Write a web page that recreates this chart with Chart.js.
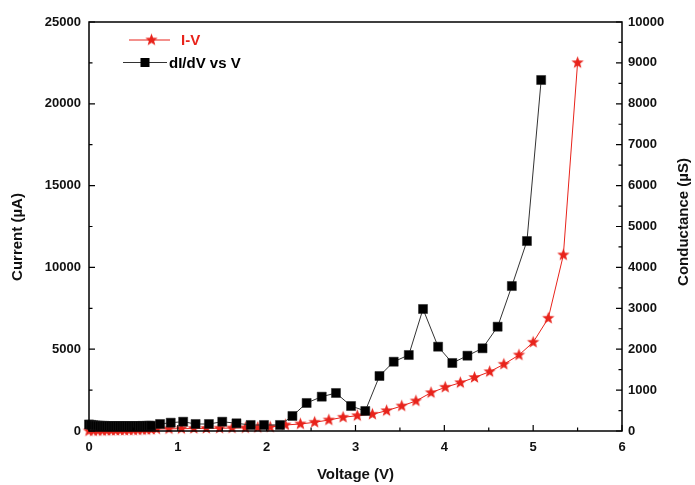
<!DOCTYPE html>
<html>
<head>
<meta charset="utf-8">
<script src="https://cdn.jsdelivr.net/npm/chart.js@4/dist/chart.umd.min.js"></script>
<style>
  body { margin: 0; background: #fff; }
  #chart { display: block; }
</style>
</head>
<body>
<canvas id="chart" width="695" height="485"></canvas>
<script>
// I-V curve (left axis, µA)
const ivVoltage = [0, 0.05, 0.1, 0.15, 0.2, 0.25, 0.3, 0.35, 0.4, 0.45, 0.5, 0.55, 0.6, 0.65, 0.7,
  0.76, 0.90, 1.04, 1.18, 1.32, 1.47, 1.61, 1.76, 1.90, 2.04, 2.21, 2.38, 2.54, 2.70, 2.86, 3.02,
  3.19, 3.35, 3.52, 3.68, 3.85, 4.01, 4.18, 4.34, 4.51, 4.67, 4.84, 5.00, 5.17, 5.34, 5.50];
const ivCurrent = [0, 5, 10, 15, 20, 25, 30, 35, 40, 45, 50, 60, 70, 80, 90,
  120, 130, 140, 150, 160, 170, 180, 190, 210, 240, 367, 428, 532, 672, 837, 935,
  1021, 1241, 1528, 1834, 2341, 2671, 2952, 3270, 3625, 4077, 4645, 5422, 6889, 10758, 22512];

// dI/dV curve (right axis, µS)
const gVoltage = [0, 0.025, 0.05, 0.075, 0.1, 0.125, 0.15, 0.175, 0.2, 0.225, 0.25, 0.275, 0.3, 0.325,
  0.35, 0.375, 0.4, 0.425, 0.45, 0.475, 0.5, 0.525, 0.55, 0.575, 0.6, 0.625, 0.65, 0.675, 0.7,
  0.80, 0.92, 1.06, 1.20, 1.35, 1.50, 1.66, 1.82, 1.97, 2.15, 2.29, 2.45, 2.62, 2.78, 2.95, 3.11,
  3.27, 3.43, 3.60, 3.76, 3.93, 4.09, 4.26, 4.43, 4.60, 4.76, 4.93, 5.09];
const gConductance = [160, 150, 140, 135, 130, 128, 125, 125, 122, 122, 120, 120, 122, 120,
  118, 120, 122, 120, 120, 118, 120, 122, 120, 122, 125, 122, 125, 128, 130,
  171, 203, 227, 171, 171, 227, 188, 147, 147, 147, 367, 685, 839, 929, 611, 489,
  1345, 1694, 1858, 2983, 2061, 1663, 1841, 2022, 2550, 3545, 4645, 8582];

const xTicks = [0, 1, 2, 3, 4, 5, 6];
const leftTicks = [0, 5000, 10000, 15000, 20000, 25000];
const rightTicks = [0, 1000, 2000, 3000, 4000, 5000, 6000, 7000, 8000, 9000, 10000];

const RED = "#e8231b";
const BLACK = "#000";
const FONT = "'Liberation Sans', Arial, sans-serif";

// filled five point star used as point style
function makeStar(r, color) {
    let c = document.createElement("canvas");
    let s = Math.ceil(r * 2 + 2);
    c.width = s; c.height = s;
    let g = c.getContext("2d");
    g.fillStyle = color;
    g.beginPath();
    for (let i = 0; i < 10; i++) {
        let rad = i % 2 === 0 ? r : r * 0.42;
        let a = -Math.PI / 2 + i * Math.PI / 5;
        let px = s / 2 + rad * Math.cos(a);
        let py = s / 2 + rad * Math.sin(a);
        if (i === 0) g.moveTo(px, py); else g.lineTo(px, py);
    }
    g.closePath();
    g.fill();
    return c;
}
const starImg = makeStar(6.5, RED);

const toPoints = (xs, ys) => xs.map((x, i) => ({ x: x, y: ys[i] }));

function drawVerticalText(ctx, text, x, y) {
    ctx.save();
    ctx.translate(x, y);
    ctx.rotate(-Math.PI / 2);
    ctx.textAlign = "center";
    ctx.textBaseline = "middle";
    ctx.fillText(text, 0, 0);
    ctx.restore();
}

// frame, inward ticks, axis titles and legend
const framePlugin = {
    id: "frame",
    afterDraw(chart) {
        let ctx = chart.ctx;
        let a = chart.chartArea;
        let sx = chart.scales.x, sy = chart.scales.y, sy2 = chart.scales.y2;
        ctx.save();
        ctx.strokeStyle = BLACK;
        ctx.lineWidth = 1.5;
        ctx.strokeRect(a.left, a.top, a.right - a.left, a.bottom - a.top);

        ctx.lineWidth = 1.2;
        ctx.beginPath();
        for (let v = 0; v <= 6; v += 0.5) {
            let p = sx.getPixelForValue(v);
            let len = Number.isInteger(v) ? 6 : 3.5;
            ctx.moveTo(p, a.bottom); ctx.lineTo(p, a.bottom - len);
        }
        for (let v = 0; v <= 25000; v += 2500) {
            let p = sy.getPixelForValue(v);
            let len = v % 5000 === 0 ? 6 : 3.5;
            ctx.moveTo(a.left, p); ctx.lineTo(a.left + len, p);
        }
        for (let v = 0; v <= 10000; v += 500) {
            let p = sy2.getPixelForValue(v);
            let len = v % 1000 === 0 ? 6 : 3.5;
            ctx.moveTo(a.right, p); ctx.lineTo(a.right - len, p);
        }
        ctx.stroke();

        // y axis titles, both reading bottom to top
        ctx.font = "bold 15px " + FONT;
        ctx.fillStyle = "#111";
        drawVerticalText(ctx, "Current (\u00b5A)", 18, a.top + 215);
        drawVerticalText(ctx, "Conductance (\u00b5S)", chart.width - 11, a.top + 200);

        // legend
        ctx.textBaseline = "middle";
        let y1 = a.top + 18, y2 = a.top + 40.5;
        ctx.strokeStyle = RED; ctx.lineWidth = 1;
        ctx.beginPath(); ctx.moveTo(a.left + 40, y1); ctx.lineTo(a.left + 81, y1); ctx.stroke();
        ctx.drawImage(starImg, a.left + 62.5 - starImg.width / 2, y1 - starImg.height / 2);
        ctx.fillStyle = RED;
        ctx.fillText("I-V", a.left + 92, y1 + 1);

        ctx.strokeStyle = "#333";
        ctx.beginPath(); ctx.moveTo(a.left + 34, y2); ctx.lineTo(a.left + 78, y2); ctx.stroke();
        ctx.fillStyle = BLACK;
        ctx.fillRect(a.left + 51.5, y2 - 4.5, 9, 9);
        ctx.fillText("dI/dV vs V", a.left + 80, y2 + 1);
        ctx.restore();
    }
};

const tickFont = { family: FONT, size: 13, weight: "bold" };
const titleFont = { family: FONT, size: 15, weight: "bold" };
const plainLabel = v => String(v);

new Chart(document.getElementById("chart"), {
    type: "line",
    data: {
        datasets: [
            {
                label: "dI/dV vs V",
                data: toPoints(gVoltage, gConductance),
                yAxisID: "y2",
                borderColor: "#333",
                borderWidth: 1,
                pointStyle: "rect",
                pointRadius: 6.4,
                pointBackgroundColor: BLACK,
                pointBorderColor: "#222",
                pointBorderWidth: 0.5,
                tension: 0,
                clip: false
            },
            {
                label: "I-V",
                data: toPoints(ivVoltage, ivCurrent),
                yAxisID: "y",
                borderColor: RED,
                borderWidth: 1,
                pointStyle: starImg,
                pointRadius: 6,
                tension: 0,
                clip: false
            }
        ]
    },
    options: {
        responsive: false,
        animation: false,
        layout: { padding: { top: 22, left: 0, right: 0, bottom: 0 } },
        plugins: {
            legend: { display: false },
            tooltip: { enabled: false }
        },
        scales: {
            x: {
                type: "linear",
                min: 0, max: 6,
                afterBuildTicks: s => { s.ticks = xTicks.map(v => ({ value: v })); },
                afterFit: s => { s.height = 54; },
                grid: { display: false, drawTicks: false },
                border: { display: false },
                ticks: { font: tickFont, color: "#111", padding: 9, maxRotation: 0, callback: plainLabel },
                title: { display: true, text: "Voltage (V)", font: titleFont, color: "#111", padding: { top: 0, bottom: 1 } }
            },
            y: {
                position: "left",
                min: 0, max: 25000,
                afterBuildTicks: s => { s.ticks = leftTicks.map(v => ({ value: v })); },
                afterFit: s => { s.width = 89; },
                grid: { display: false, drawTicks: false },
                border: { display: false },
                ticks: { font: tickFont, color: "#111", padding: 8, callback: plainLabel }
            },
            y2: {
                position: "right",
                min: 0, max: 10000,
                afterBuildTicks: s => { s.ticks = rightTicks.map(v => ({ value: v })); },
                afterFit: s => { s.width = 73; },
                grid: { display: false, drawTicks: false },
                border: { display: false },
                ticks: { font: tickFont, color: "#111", padding: 6, callback: plainLabel }
            }
        }
    },
    plugins: [framePlugin]
});
</script>
</body>
</html>
